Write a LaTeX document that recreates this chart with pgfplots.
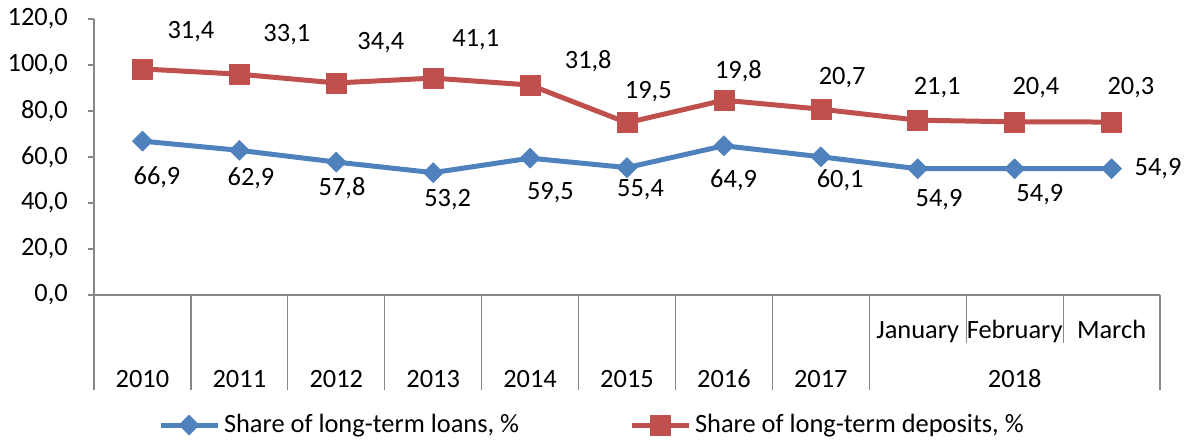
\documentclass[border=0pt]{standalone}
\usepackage{pgfplots}
\pgfplotsset{compat=1.18}
\usepackage{pgfplotstable}
\usepackage{fontspec}
\setmainfont{Carlito}
\definecolor{cblue}{HTML}{4F81BD}
\definecolor{cred}{HTML}{C0504D}
\definecolor{cgrid}{HTML}{878787}

\pgfplotstableread{
x loans deposits
0  66.9 31.4
1  62.9 33.1
2  57.8 34.4
3  53.2 41.1
4  59.5 31.8
5  55.4 19.5
6  64.9 19.8
7  60.1 20.7
8  54.9 21.1
9  54.9 20.4
10 54.9 20.3
}\datatable

\pgfplotstableread{
x y lab
0.15 51.3 66,9
1.12 50.9 62,9
2.06 46.5 57,8
3.15 41.3 53,2
4.21 44.3 59,5
5.14 45.7 55,4
6.10 50.0 64,9
7.20 50.0 60,1
8.22 41.3 54,9
9.26 43.5 54,9
10.48 54.8 54,9
}\loanlabels

\pgfplotstableread{
x y lab
0.50 114.3 31,4
1.49 113.0 33,1
2.46 109.6 34,4
3.44 110.9 41,1
4.60 101.7 31,8
5.22 88.3 19,5
6.15 97.4 19,8
7.22 94.3 20,7
8.20 90.0 21,1
9.22 90.0 20,4
10.20 90.0 20,3
}\deplabels

\begin{document}
\fontsize{13.2}{15.5}\selectfont
\begin{tikzpicture}
\useasboundingbox (0,0) rectangle (593.5pt,220.5pt);
\begin{axis}[
  at={(47pt,73pt)}, anchor=south west,
  scale only axis, width=533pt, height=138pt,
  xmin=-0.5, xmax=10.5, ymin=0, ymax=120,
  axis lines*=left,
  axis line style={cgrid, line width=0.6pt},
  ytick={0,20,...,120},
  y tick style={cgrid, line width=0.6pt},
  tick align=outside, major tick length=3pt,
  /pgf/number format/fixed, /pgf/number format/fixed zerofill,
  /pgf/number format/precision=1, /pgf/number format/use comma,
  /pgf/number format/assume math mode=true,
  yticklabel style={xshift=-5.5pt},
  xtick={8,9,10}, xticklabels={January,February,March},
  x tick style={draw=none},
  xticklabel style={anchor=base, yshift=-18.5pt},
  extra x ticks={0,1,2,3,4,5,6,7,9},
  extra x tick labels={2010,2011,2012,2013,2014,2015,2016,2017,2018},
  extra x tick style={x tick style={draw=none}, xticklabel style={yshift=-24.5pt}},
  legend style={at={(0.468,-0.471)}, anchor=center, draw=none, legend columns=2,
    /tikz/every even column/.append style={column sep=53pt}, inner sep=0pt},
  legend image code/.code={\draw[mark repeat=2,mark phase=2] plot coordinates {(0cm,0cm) (0.5cm,0cm) (1cm,0cm)};},
  clip=false,
]
\addplot[cblue, line width=2.5pt, line join=round, mark=square*, mark size=3.54pt,
  mark options={solid, rotate=45, line width=0.3pt, fill=cblue}]
  table[x=x, y=loans] {\datatable};
\addlegendentry{Share of long-term loans, \%}
\addplot[cred, line width=2.5pt, line join=round, mark=square*, mark size=5pt,
  mark options={solid, line width=0.3pt, fill=cred}]
  table[x=x, y expr=\thisrow{loans}+\thisrow{deposits}] {\datatable};
\addlegendentry{Share of long-term deposits, \%}

\addplot[draw=none, forget plot, nodes near coords, point meta=explicit symbolic,
  nodes near coords align=center, every node near coord/.append style={black, inner sep=0pt}]
  table[x=x, y=y, meta=lab] {\loanlabels};
\addplot[draw=none, forget plot, nodes near coords, point meta=explicit symbolic,
  nodes near coords align=center, every node near coord/.append style={black, inner sep=0pt}]
  table[x=x, y=y, meta=lab] {\deplabels};

\pgfplotsinvokeforeach{-0.5,0.5,1.5,2.5,3.5,4.5,5.5,6.5,7.5,10.5}{
  \draw[cgrid, line width=0.6pt] (axis cs:#1,0) -- ++(0pt,-47.5pt);
}
\pgfplotsinvokeforeach{8.5,9.5}{
  \draw[cgrid, line width=0.6pt] (axis cs:#1,0) -- ++(0pt,-24pt);
}
\end{axis}
\end{tikzpicture}
\end{document}
